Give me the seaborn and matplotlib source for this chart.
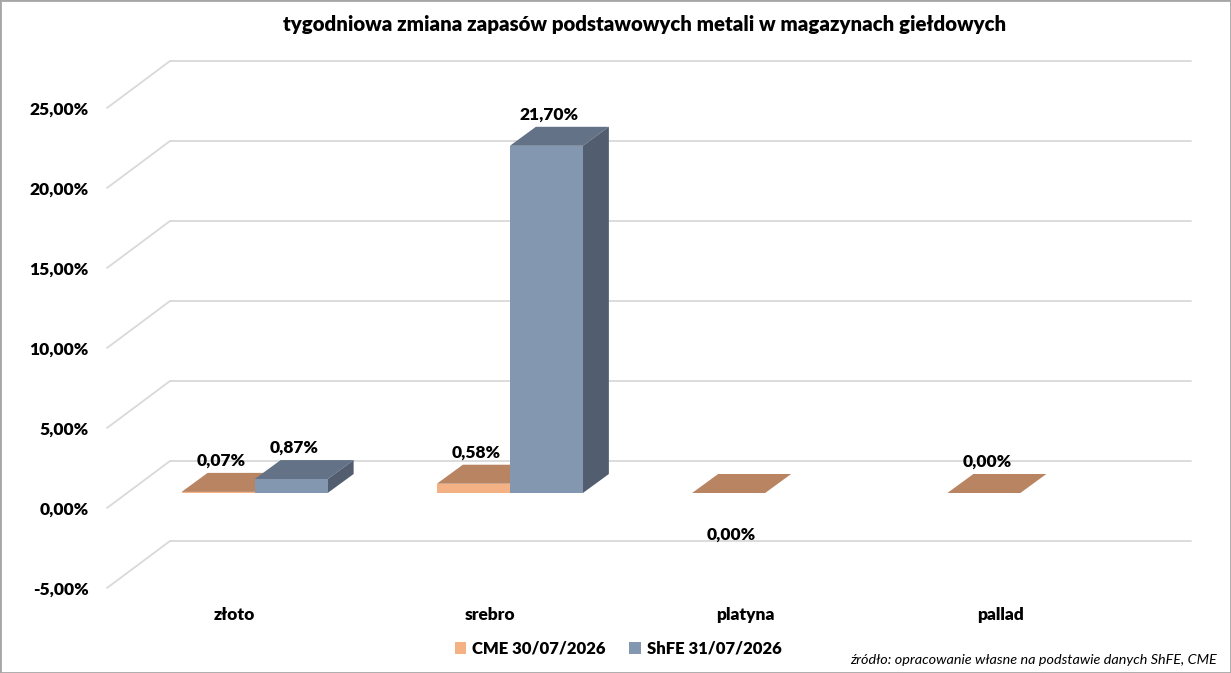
# =========================================
# IMPORTS
# =========================================
import numpy as np
import pandas as pd
import matplotlib
matplotlib.use("Agg")
import matplotlib.pyplot as plt
from matplotlib.patches import Polygon, Rectangle, Patch
from matplotlib.ticker import FuncFormatter
import seaborn as sns


# =========================================
# DATA
# =========================================
METALS = ["złoto", "srebro", "platyna", "pallad"]
SERIES = ["CME 30/07/2026", "ShFE 31/07/2026"]
CME_VALUES = [0.07, 0.58, -0.001, 0.00]
SHFE_VALUES = [0.87, 21.70, np.nan, np.nan]
Y_TICKS = [-5, 0, 5, 10, 15, 20, 25]

TITLE = "tygodniowa zmiana zapasów podstawowych metali w magazynach giełdowych"
SOURCE = "źródło: opracowanie własne na podstawie danych ShFE, CME"


# =========================================
# STYLE / LAYOUT
# =========================================
FRONT = ["#F4B183", "#8497B0"]
TOP = ["#B98462", "#637287"]
SIDE = ["#C98E63", "#525E70"]
GRID = "#D9D9D9"

FIG_W, FIG_H = 1231, 673
AX_LEFT, AX_RIGHT = 107, 1128      # pixel edges of the front floor plane
AX_TOP, AX_BOTTOM = 108, 588
XMIN, XMAX = -0.5, 3.5
YMIN, YMAX = -5, 25

PX_X = (AX_RIGHT - AX_LEFT) / (XMAX - XMIN)
PX_Y = (AX_BOTTOM - AX_TOP) / (YMAX - YMIN)


def px(dx, dy):
    # pixel offset -> data offset (dy positive = up)
    return dx / PX_X, dy / PX_Y


BAR_SHIFT = px(20, 15)    # front floor edge -> bar front plane
BAR_DEPTH = px(26, 19)    # bar front -> bar back
WALL_DEPTH = px(63, 47)   # front floor edge -> back wall


def pct(v, _pos=None):
    return f"{abs(v) if abs(v) < 0.005 else v:.2f}%".replace(".", ",")


# =========================================
# PLOT
# =========================================
def main():
    sns.set_theme(style="white")
    plt.rcParams["font.family"] = ["Lato", "DejaVu Sans"]

    df = pd.DataFrame({
        "metal": METALS * 2,
        "rynek": [SERIES[0]] * len(METALS) + [SERIES[1]] * len(METALS),
        "zmiana": CME_VALUES + SHFE_VALUES,
    })

    fig = plt.figure(figsize=(FIG_W / 100, FIG_H / 100), dpi=100)
    ax = fig.add_axes([
        AX_LEFT / FIG_W,
        (FIG_H - AX_BOTTOM) / FIG_H,
        (AX_RIGHT - AX_LEFT) / FIG_W,
        (AX_BOTTOM - AX_TOP) / FIG_H,
    ])

    sns.barplot(
        data=df, x="metal", y="zmiana", hue="rynek",
        hue_order=SERIES, palette=FRONT, saturation=1,
        width=0.572, gap=0, errorbar=None, legend=False,
        linewidth=0, ax=ax,
    )
    ax.set_xlim(XMIN, XMAX)
    ax.set_ylim(YMIN, YMAX)

    # back wall + side gridlines
    for v in Y_TICKS:
        ax.plot([XMIN, XMIN + WALL_DEPTH[0]], [v, v + WALL_DEPTH[1]],
                color=GRID, lw=1.3, clip_on=False, zorder=0.5)
        ax.plot([XMIN + WALL_DEPTH[0], XMAX + WALL_DEPTH[0]],
                [v + WALL_DEPTH[1]] * 2,
                color=GRID, lw=1.3, clip_on=False, zorder=0.5)

    # collect bars and give them depth
    bars = []
    for s, container in enumerate(ax.containers):
        for bar in container:
            h = bar.get_height()
            if np.isnan(h):
                continue
            bars.append((bar.get_x(), s, bar))
    bars.sort(key=lambda b: b[0])

    dx, dy = BAR_DEPTH
    for k, (_, s, bar) in enumerate(bars):
        h = bar.get_height()
        w = bar.get_width()
        x0 = bar.get_x() + BAR_SHIFT[0]
        x1 = x0 + w
        base = min(h, 0) + BAR_SHIFT[1]
        top = max(h, 0) + BAR_SHIFT[1]
        bar.set_x(x0)
        bar.set_y(BAR_SHIFT[1])
        z = 2 + k * 0.1
        bar.set_zorder(z + 0.05)

        ax.add_patch(Polygon(
            [(x0, top), (x1, top), (x1 + dx, top + dy), (x0 + dx, top + dy)],
            closed=True, facecolor=TOP[s], edgecolor="none",
            zorder=z, clip_on=False))
        ax.add_patch(Polygon(
            [(x1, base), (x1, top), (x1 + dx, top + dy), (x1 + dx, base + dy)],
            closed=True, facecolor=SIDE[s], edgecolor="none",
            zorder=z, clip_on=False))

        lx = x0 + w / 2 + px(3, 0)[0]
        if h >= 0:
            ly = top + px(0, 31)[1]
        else:
            ly = BAR_SHIFT[1] - px(0, 42)[1]
        ax.text(lx, ly, pct(h), ha="center", va="center",
                fontsize=12.5, fontweight="heavy", color="#000000",
                zorder=10, clip_on=False)

    # axes cosmetics
    sns.despine(ax=ax, left=True, bottom=True)
    ax.set_xlabel("")
    ax.set_ylabel("")
    ax.set_yticks(Y_TICKS)
    ax.yaxis.set_major_formatter(FuncFormatter(pct))
    ax.tick_params(axis="y", length=0, pad=13, labelsize=12.5)
    ax.tick_params(axis="x", length=0, pad=14, labelsize=12.5)
    for lab in ax.get_yticklabels() + ax.get_xticklabels():
        lab.set_fontweight("heavy")
        lab.set_color("#000000")
    ax.patch.set_alpha(0)

    fig.text(645 / FIG_W, 1 - 24 / FIG_H, TITLE, ha="center", va="center",
             fontsize=14.7, fontweight="heavy", color="#000000")

    handles = [Patch(facecolor=c, edgecolor="none") for c in FRONT]
    leg = fig.legend(
        handles, SERIES, loc="center",
        bbox_to_anchor=(618 / FIG_W, 1 - 649 / FIG_H), ncol=2,
        frameon=False, handlelength=0.7, handleheight=0.7,
        handletextpad=0.35, columnspacing=1.4,
        prop={"weight": "heavy", "size": 12},
    )
    for t in leg.get_texts():
        t.set_color("#000000")

    fig.text(1217 / FIG_W, 1 - 660 / FIG_H, SOURCE, ha="right", va="center",
             fontsize=10.4, fontstyle="italic", color="#000000")

    fig.patches.append(Rectangle((0, 0), 1, 1, transform=fig.transFigure,
                                 fill=False, edgecolor="#A6A6A6", lw=2))

    fig.savefig("out.png", dpi=100, facecolor="white")


if __name__ == "__main__":
    main()
